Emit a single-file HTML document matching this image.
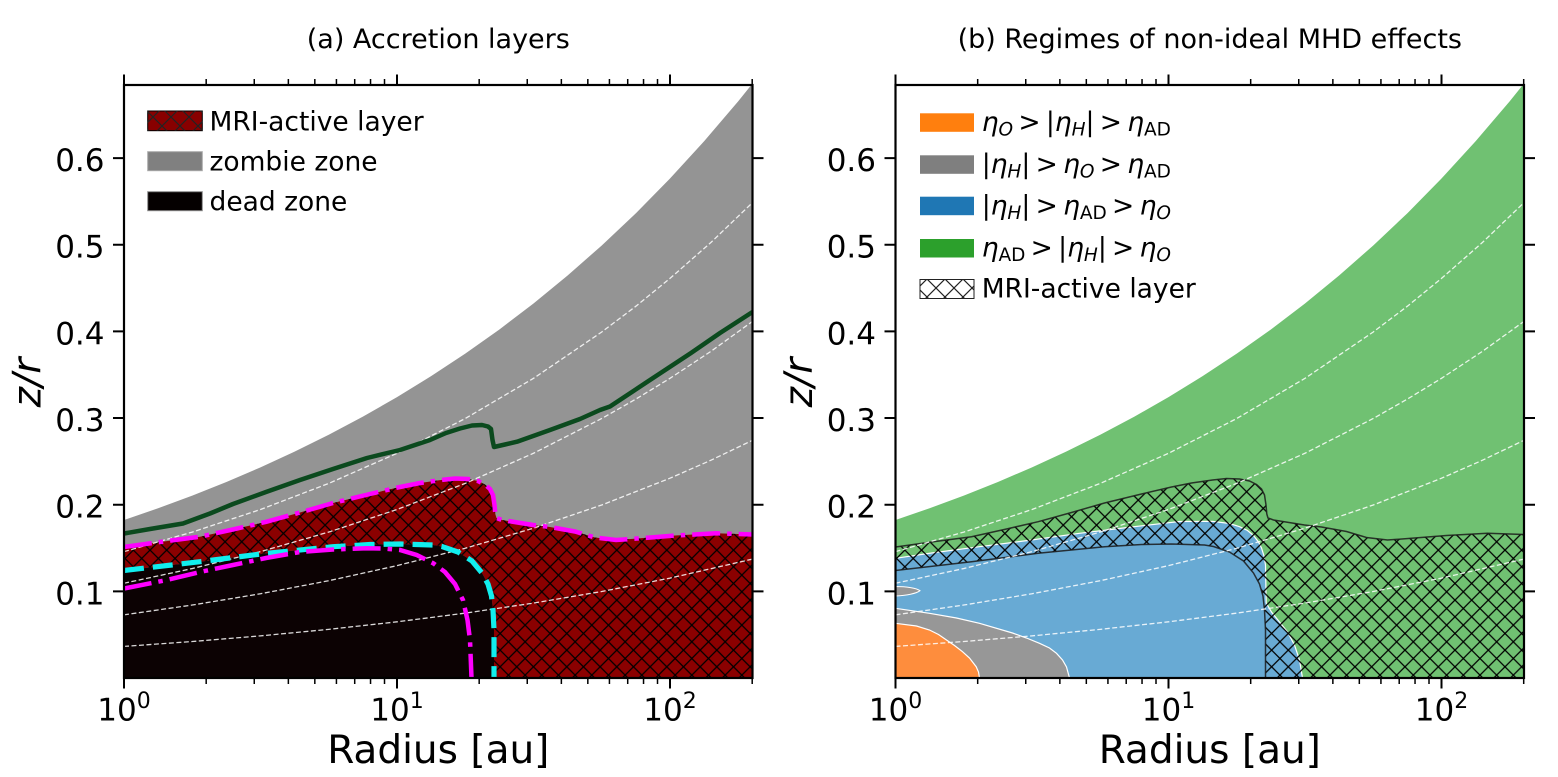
<!DOCTYPE html>
<html>
<head>
<meta charset="utf-8">
<style>
  html, body { margin: 0; padding: 0; background: #fff; }
  body { width: 1558px; height: 777px; overflow: hidden; }
  svg { display: block; }
  text { font-family: "DejaVu Sans", "Liberation Sans", sans-serif; fill: #000; }
</style>
</head>
<body>
<svg width="1558" height="777" viewBox="0 0 1558 777" xmlns="http://www.w3.org/2000/svg">
  <defs>
    <pattern id="hx" patternUnits="userSpaceOnUse" width="16.67" height="16.67">
      <path d="M-2,-2 L18.67,18.67 M-2,18.67 L18.67,-2" stroke="#000" stroke-width="1.3" fill="none"/>
    </pattern>
    <pattern id="hxl" patternUnits="userSpaceOnUse" width="18" height="18">
      <path d="M-2,-2 L20,20 M-2,20 L20,-2" stroke="#222" stroke-width="1.2" fill="none"/>
    </pattern>
    <clipPath id="clipA">
      <rect x="124" y="85" width="628.5" height="593"/>
    </clipPath>
  </defs>

  <!-- ================= LEFT PANEL ================= -->
  <g clip-path="url(#clipA)">
    <!-- zombie zone -->
    <path d="M124,520.05 L158.1,508.27 L192.25,495.6 L226.4,482 L260.5,467.37 L294.6,451.66 L328.75,434.77 L362.9,416.62 L397,397.11 L431.1,376.16 L465.25,353.65 L499.4,329.44 L533.5,303.44 L567.6,275.5 L601.75,245.47 L635.9,213.2 L670,178.51 L704.1,141.25 L738.25,101.21 L752.5,83.5 L752.5,678 L124,678 Z" fill="#949494"/>
    <!-- MRI active layer -->
    <path id="hreg" d="M124,547 L160,542 L200,536.7 L235,529 L266.7,521.7 L300,512.5 L333,503 L370,494 L400,487 L420,483 L441,480 L455,478.5 L468,479 L478,481 L485,484.5 L490,489 L493,495 L494.5,505 L495.3,514 L496.5,518 L502,520 L533,525 L550,527 L575,531.5 L595,537.5 L616,540 L640,538.3 L675,535.5 L716,533.3 L752.5,534.5 L752.5,678 L494,678 L494,630 L493,610 L491.5,596 L488,584 L482,573 L472,561 L458,552 L442,546.5 L433,545 L400,544 L370,544.5 L333,546.7 L266.7,553.3 L200,561.7 L124,570.5 Z" fill="#8b0000"/>
    <path d="M124,547 L160,542 L200,536.7 L235,529 L266.7,521.7 L300,512.5 L333,503 L370,494 L400,487 L420,483 L441,480 L455,478.5 L468,479 L478,481 L485,484.5 L490,489 L493,495 L494.5,505 L495.3,514 L496.5,518 L502,520 L533,525 L550,527 L575,531.5 L595,537.5 L616,540 L640,538.3 L675,535.5 L716,533.3 L752.5,534.5 L752.5,678 L494,678 L494,630 L493,610 L491.5,596 L488,584 L482,573 L472,561 L458,552 L442,546.5 L433,545 L400,544 L370,544.5 L333,546.7 L266.7,553.3 L200,561.7 L124,570.5 Z" fill="url(#hx)"/>
    <!-- dead zone -->
    <path d="M124,570.5 L200,561.7 L266.7,553.3 L333,546.7 L370,544.5 L400,544 L433,545 L442,546.5 L458,552 L472,561 L482,573 L488,584 L491.5,596 L493,610 L494,630 L494,678 L124,678 Z" fill="#0c0203"/>
    <!-- white dashed scale-height lines -->
    <g fill="none" stroke="#ffffff" stroke-opacity="0.85" stroke-width="1.3" stroke-dasharray="5 2.5">
      <path d="M124,646.41 L192.25,641.52 L260.5,635.87 L328.75,629.35 L397,621.82 L465.25,613.13 L533.5,603.09 L601.75,591.49 L670,578.1 L752.5,559.1"/>
      <path d="M124,614.82 L192.25,605.04 L260.5,593.75 L328.75,580.71 L397,565.65 L465.25,548.26 L533.5,528.17 L601.75,504.99 L670,478.21 L711,460.2 L752.5,440.3"/>
      <path d="M124,583.23 L192.25,568.56 L260.5,551.62 L328.75,532.06 L397,509.47 L465.25,483.39 L533.5,453.26 L601.75,418.48 L635.9,399.1 L670,378.31 L711,351.3 L752.5,321.4"/>
      <path d="M124,551.64 L192.25,532.08 L260.5,509.5 L328.75,483.42 L397,453.29 L465.25,418.52 L533.5,378.35 L601.75,331.98 L635.9,306.2 L670,278.41 L711,242.4 L752.5,202.6"/>
    </g>
    <!-- green line -->
    <path d="M124,533.5 L150,529 L183,523.5 L210,513.5 L233,504 L266,492 L300,480 L333,469 L367,458 L400,450 L430,440 L446,433 L460,428.5 L472,425.5 L482,425 L488,426.5 L491,429 L492.5,440 L494,447 L505,444.5 L517,441.7 L550,430 L580,419 L600,410 L610,406.5 L650,380 L691,353 L720,333 L752.5,312" fill="none" stroke="#0b4a1e" stroke-width="4.5" stroke-linejoin="round"/>
    <!-- magenta outer -->
    <path d="M124,547 L160,542 L200,536.7 L235,529 L266.7,521.7 L300,512.5 L333,503 L370,494 L400,487 L420,483 L441,480 L455,478.5 L468,479 L478,481 L485,484.5 L490,489 L493,495 L494.5,505 L495.3,514 L496.5,518 L502,520 L533,525 L550,527 L575,531.5 L595,537.5 L616,540 L640,538.3 L675,535.5 L716,533.3 L752.5,534.5" fill="none" stroke="#ff00ff" stroke-width="4.5" stroke-dasharray="28 7 4.5 7"/>
    <!-- cyan dashed -->
    <path d="M124,570.5 L200,561.7 L266.7,553.3 L333,546.7 L370,544.5 L400,544 L433,545 L442,546.5 L458,552 L472,561 L482,573 L488,584 L491.5,596 L493,610 L494,630 L494,678" fill="none" stroke="#11eeee" stroke-width="5.2" stroke-dasharray="20 9"/>
    <!-- magenta inner -->
    <path d="M124,588.5 L166.7,580 L200,572 L233,565 L266,558 L300,552 L333,549.5 L366.7,548.3 L385,548.6 L400,550 L416.7,555 L433.3,563.3 L445,572 L455,584 L463,600 L467.5,620 L470,640 L471.5,678" fill="none" stroke="#ff00ff" stroke-width="4.5" stroke-dasharray="28 7 4.5 7"/>
  </g>

  <!-- left legend -->
  <rect x="147.7" y="111" width="54.6" height="19.7" fill="#880000" stroke="#000" stroke-width="1"/>
  <rect x="147.7" y="111" width="54.6" height="19.7" fill="url(#hxl)"/>
  <rect x="147.7" y="151.7" width="54.6" height="19" fill="#808080" stroke="#a8a8a8" stroke-width="1"/>
  <rect x="147.7" y="191.7" width="54.6" height="19" fill="#050000" stroke="#8a8a8a" stroke-width="1"/>
  <text x="209.5" y="130.5" font-size="26.5">MRI-active layer</text>
  <text x="209.5" y="170.5" font-size="26.5">zombie zone</text>
  <text x="209.5" y="210.5" font-size="26.5">dead zone</text>

  <!-- ================= RIGHT PANEL ================= -->
  <g transform="translate(771.5,0)">
    <g clip-path="url(#clipA)">
      <path d="M124,520.05 L158.1,508.27 L192.25,495.6 L226.4,482 L260.5,467.37 L294.6,451.66 L328.75,434.77 L362.9,416.62 L397,397.11 L431.1,376.16 L465.25,353.65 L499.4,329.44 L533.5,303.44 L567.6,275.5 L601.75,245.47 L635.9,213.2 L670,178.51 L704.1,141.25 L738.25,101.21 L752.5,83.5 L752.5,678 L124,678 Z" fill="#70c172"/>
      <!-- blue -->
      <path d="M124,558.3 L160,553 L208,546.7 L260,540 L308,533.3 L360,527 L408,521.5 L441,521.3 L458,523.5 L468,526.7 L476,530.5 L482,535.5 L487,542 L490,548 L492.5,556 L494,565 L494.7,603 L500,612 L508,622 L516,632 L523,645 L528,660 L531,678 L124,678 Z" fill="#68aad4" stroke="#ffffff" stroke-width="1.2"/>
      <!-- gray -->
      <path d="M124,608.3 L158,613.3 L185,618 L208,623.3 L241,633 L255,638 L268,643.3 L278,648 L285,653.3 L291,660 L295,667 L298,678 L124,678 Z" fill="#979797" stroke="#ffffff" stroke-width="1.2"/>
      <path d="M124,586.5 C135,586.5 145,588 148.5,590.7 C145,593.5 135,595.5 124,596 Z" fill="#979797" stroke="#ffffff" stroke-width="1"/>
      <!-- orange -->
      <path d="M124,623.3 L145,626 L158,630 L167,634.5 L175,640 L183,645.5 L191,651.7 L198,658 L204.7,666.7 L207,672 L208,678 L124,678 Z" fill="#fe8d3d" stroke="#ffffff" stroke-width="1.2"/>
      <!-- hatch MRI-active -->
      <path d="M124,547 L160,542 L200,536.7 L235,529 L266.7,521.7 L300,512.5 L333,503 L370,494 L400,487 L420,483 L441,480 L455,478.5 L468,479 L478,481 L485,484.5 L490,489 L493,495 L494.5,505 L495.3,514 L496.5,518 L502,520 L533,525 L550,527 L575,531.5 L595,537.5 L616,540 L640,538.3 L675,535.5 L716,533.3 L752.5,534.5 L752.5,678 L494,678 L494,630 L493,610 L491.5,596 L488,584 L482,573 L472,561 L458,552 L442,546.5 L433,545 L400,544 L370,544.5 L333,546.7 L266.7,553.3 L200,561.7 L124,570.5 Z" fill="url(#hx)" stroke="#1a1a1a" stroke-opacity="0.85" stroke-width="1.5"/>
      <g fill="none" stroke="#ffffff" stroke-opacity="0.85" stroke-width="1.3" stroke-dasharray="5 2.5">
        <path d="M124,646.41 L192.25,641.52 L260.5,635.87 L328.75,629.35 L397,621.82 L465.25,613.13 L533.5,603.09 L601.75,591.49 L670,578.1 L752.5,559.1"/>
        <path d="M124,614.82 L192.25,605.04 L260.5,593.75 L328.75,580.71 L397,565.65 L465.25,548.26 L533.5,528.17 L601.75,504.99 L670,478.21 L711,460.2 L752.5,440.3"/>
        <path d="M124,583.23 L192.25,568.56 L260.5,551.62 L328.75,532.06 L397,509.47 L465.25,483.39 L533.5,453.26 L601.75,418.48 L635.9,399.1 L670,378.31 L711,351.3 L752.5,321.4"/>
        <path d="M124,551.64 L192.25,532.08 L260.5,509.5 L328.75,483.42 L397,453.29 L465.25,418.52 L533.5,378.35 L601.75,331.98 L635.9,306.2 L670,278.41 L711,242.4 L752.5,202.6"/>
      </g>
    </g>
  </g>

  <!-- right legend -->
  <rect x="920" y="113.3" width="54" height="18.5" fill="#ff7f0e"/>
  <rect x="920" y="155.3" width="54" height="18.5" fill="#7f7f7f"/>
  <rect x="920" y="196.7" width="54" height="18.5" fill="#1f77b4"/>
  <rect x="920" y="239" width="54" height="18.5" fill="#2ca02c"/>
  <rect x="920" y="279.5" width="54" height="19" fill="#ffffff" stroke="#222" stroke-width="1"/>
  <rect x="920" y="279.5" width="54" height="19" fill="url(#hxl)"/>
  <g font-size="26.5">
    <text x="981.7" y="131"><tspan font-style="italic">η</tspan><tspan font-style="italic" font-size="18.5" dy="4.5">O</tspan><tspan dy="-4.5">&#8201;&gt;&#8201;|</tspan><tspan font-style="italic">η</tspan><tspan font-style="italic" font-size="18.5" dy="4.5">H</tspan><tspan dy="-4.5">|&#8201;&gt;&#8201;</tspan><tspan font-style="italic">η</tspan><tspan font-size="18.5" dy="4.5">AD</tspan></text>
    <text x="981.7" y="173"><tspan>|</tspan><tspan font-style="italic">η</tspan><tspan font-style="italic" font-size="18.5" dy="4.5">H</tspan><tspan dy="-4.5">|&#8201;&gt;&#8201;</tspan><tspan font-style="italic">η</tspan><tspan font-style="italic" font-size="18.5" dy="4.5">O</tspan><tspan dy="-4.5">&#8201;&gt;&#8201;</tspan><tspan font-style="italic">η</tspan><tspan font-size="18.5" dy="4.5">AD</tspan></text>
    <text x="981.7" y="214.5"><tspan>|</tspan><tspan font-style="italic">η</tspan><tspan font-style="italic" font-size="18.5" dy="4.5">H</tspan><tspan dy="-4.5">|&#8201;&gt;&#8201;</tspan><tspan font-style="italic">η</tspan><tspan font-size="18.5" dy="4.5">AD</tspan><tspan dy="-4.5">&#8201;&gt;&#8201;</tspan><tspan font-style="italic">η</tspan><tspan font-style="italic" font-size="18.5" dy="4.5">O</tspan></text>
    <text x="981.7" y="256.5"><tspan font-style="italic">η</tspan><tspan font-size="18.5" dy="4.5">AD</tspan><tspan dy="-4.5">&#8201;&gt;&#8201;|</tspan><tspan font-style="italic">η</tspan><tspan font-style="italic" font-size="18.5" dy="4.5">H</tspan><tspan dy="-4.5">|&#8201;&gt;&#8201;</tspan><tspan font-style="italic">η</tspan><tspan font-style="italic" font-size="18.5" dy="4.5">O</tspan></text>
    <text x="981.7" y="297.5">MRI-active layer</text>
  </g>

  <!-- ================= AXES (both panels) ================= -->
  <g id="axL">
    <rect x="124" y="85" width="628.5" height="593" fill="none" stroke="#000" stroke-width="2.2"/>
    <!-- major x ticks -->
    <path d="M124,678 V688.5 M397,678 V688.5 M670,678 V688.5 M124,85 V74.5 M397,85 V74.5 M670,85 V74.5" stroke="#000" stroke-width="2"/>
    <!-- minor x ticks -->
    <path d="M206.18,678 V684 M254.25,678 V684 M288.36,678 V684 M314.82,678 V684 M336.43,678 V684 M354.71,678 V684 M370.54,678 V684 M384.51,678 V684 M479.18,678 V684 M527.25,678 V684 M561.36,678 V684 M587.82,678 V684 M609.43,678 V684 M627.71,678 V684 M643.54,678 V684 M657.51,678 V684 M752.2,678 V684
             M206.18,85 V79 M254.25,85 V79 M288.36,85 V79 M314.82,85 V79 M336.43,85 V79 M354.71,85 V79 M370.54,85 V79 M384.51,85 V79 M479.18,85 V79 M527.25,85 V79 M561.36,85 V79 M587.82,85 V79 M609.43,85 V79 M627.71,85 V79 M643.54,85 V79 M657.51,85 V79 M752.2,85 V79" stroke="#000" stroke-width="1.5"/>
    <!-- y ticks -->
    <path d="M113,591.35 H124 M113,504.7 H124 M113,418.05 H124 M113,331.4 H124 M113,244.75 H124 M113,158.1 H124
             M752.5,591.35 H763.5 M752.5,504.7 H763.5 M752.5,418.05 H763.5 M752.5,331.4 H763.5 M752.5,244.75 H763.5 M752.5,158.1 H763.5" stroke="#000" stroke-width="2"/>
    <g font-size="31" text-anchor="end">
      <text x="104.5" y="604.4">0.1</text>
      <text x="104.5" y="517.7">0.2</text>
      <text x="104.5" y="431">0.3</text>
      <text x="104.5" y="344.4">0.4</text>
      <text x="104.5" y="257.7">0.5</text>
      <text x="104.5" y="171.1">0.6</text>
    </g>
    <g font-size="31" text-anchor="middle">
      <text x="124" y="720.5">10<tspan font-size="22" dy="-12.5">0</tspan></text>
      <text x="397" y="720.5">10<tspan font-size="22" dy="-12.5">1</tspan></text>
      <text x="670" y="720.5">10<tspan font-size="22" dy="-12.5">2</tspan></text>
    </g>
    <text x="438.3" y="763" font-size="39" text-anchor="middle">Radius [au]</text>
    <text transform="translate(40.5,382.5) rotate(-90)" font-size="39" font-style="italic" text-anchor="middle">z/r</text>
    <text x="438.3" y="48" font-size="27" text-anchor="middle">(a) Accretion layers</text>
  </g>

  <g transform="translate(771.5,0)">
    <rect x="124" y="85" width="628.5" height="593" fill="none" stroke="#000" stroke-width="2.2"/>
    <path d="M124,678 V688.5 M397,678 V688.5 M670,678 V688.5 M124,85 V74.5 M397,85 V74.5 M670,85 V74.5" stroke="#000" stroke-width="2"/>
    <path d="M206.18,678 V684 M254.25,678 V684 M288.36,678 V684 M314.82,678 V684 M336.43,678 V684 M354.71,678 V684 M370.54,678 V684 M384.51,678 V684 M479.18,678 V684 M527.25,678 V684 M561.36,678 V684 M587.82,678 V684 M609.43,678 V684 M627.71,678 V684 M643.54,678 V684 M657.51,678 V684 M752.2,678 V684
             M206.18,85 V79 M254.25,85 V79 M288.36,85 V79 M314.82,85 V79 M336.43,85 V79 M354.71,85 V79 M370.54,85 V79 M384.51,85 V79 M479.18,85 V79 M527.25,85 V79 M561.36,85 V79 M587.82,85 V79 M609.43,85 V79 M627.71,85 V79 M643.54,85 V79 M657.51,85 V79 M752.2,85 V79" stroke="#000" stroke-width="1.5"/>
    <path d="M113,591.35 H124 M113,504.7 H124 M113,418.05 H124 M113,331.4 H124 M113,244.75 H124 M113,158.1 H124
             M752.5,591.35 H763.5 M752.5,504.7 H763.5 M752.5,418.05 H763.5 M752.5,331.4 H763.5 M752.5,244.75 H763.5 M752.5,158.1 H763.5" stroke="#000" stroke-width="2"/>
    <g font-size="31" text-anchor="end">
      <text x="104.5" y="604.4">0.1</text>
      <text x="104.5" y="517.7">0.2</text>
      <text x="104.5" y="431">0.3</text>
      <text x="104.5" y="344.4">0.4</text>
      <text x="104.5" y="257.7">0.5</text>
      <text x="104.5" y="171.1">0.6</text>
    </g>
    <g font-size="31" text-anchor="middle">
      <text x="124" y="720.5">10<tspan font-size="22" dy="-12.5">0</tspan></text>
      <text x="397" y="720.5">10<tspan font-size="22" dy="-12.5">1</tspan></text>
      <text x="670" y="720.5">10<tspan font-size="22" dy="-12.5">2</tspan></text>
    </g>
    <text x="438.3" y="763" font-size="39" text-anchor="middle">Radius [au]</text>
    <text transform="translate(40.5,382.5) rotate(-90)" font-size="39" font-style="italic" text-anchor="middle">z/r</text>
    <text x="438.3" y="48" font-size="27" text-anchor="middle">(b) Regimes of non-ideal MHD effects</text>
  </g>
</svg>
</body>
</html>
